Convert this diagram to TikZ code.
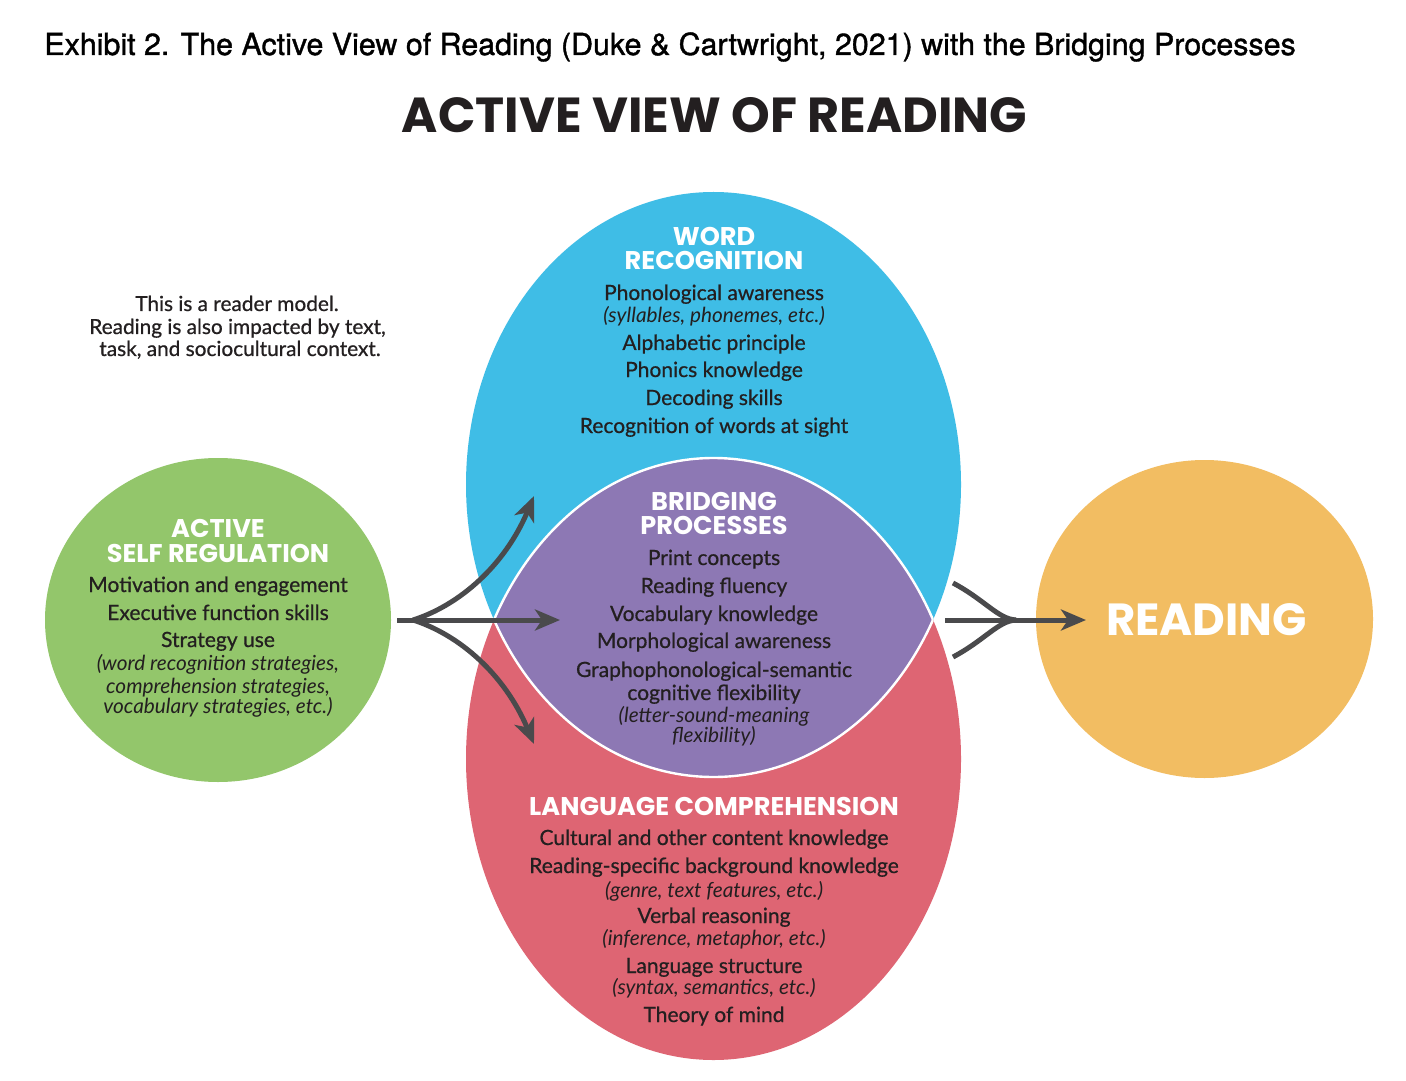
\documentclass[tikz,border=0pt]{standalone}
\usepackage{fontspec}
\usetikzlibrary{arrows.meta}
\newfontfamily\bodyf{Lato}[FakeBold=0.7]
\newfontfamily\itf{Lato}
\newfontfamily\headf{Poppins}
\newfontfamily\exf{TeX Gyre Heros}[FakeBold=1.2]
\definecolor{wrblue}{HTML}{3FBDE6}
\definecolor{lcred}{HTML}{DE6573}
\definecolor{bppurple}{HTML}{8D78B4}
\definecolor{asgreen}{HTML}{93C66B}
\definecolor{rdorange}{HTML}{F2BD62}
\definecolor{arrgray}{HTML}{4A4A4C}
\definecolor{txt}{HTML}{231F20}
\tikzset{
  body/.style={anchor=base, font=\bodyf\fontsize{10.5}{12}\selectfont, text=txt, inner sep=0pt},
  ital/.style={anchor=base, font=\itf\itshape\fontsize{10.4}{12}\selectfont, text=txt, inner sep=0pt},
  note/.style={anchor=base, font=\bodyf\fontsize{10.4}{12}\selectfont, text=txt, inner sep=0pt},
  head/.style={anchor=base, font=\headf\bfseries\fontsize{12.8}{14}\selectfont, text=white, inner sep=0pt},
  arr/.style={draw=arrgray, line width=2.5pt, -{Stealth[length=12.5pt,width=10.5pt,inset=3.5pt]}},
  plain/.style={draw=arrgray, line width=2.5pt}
}
\begin{document}
\begin{tikzpicture}[x=0.5pt,y=-0.5pt]
\path[use as bounding box, fill=white] (0,0) rectangle (1406,1080);
% header and title
\node[anchor=base west, inner sep=0pt, font=\exf\fontsize{15.2}{17}\selectfont] (exhibit) at (44,55)
  {Exhibit 2. The Active View of Reading (Duke \& Cartwright, 2021) with the Bridging Processes};
\node[anchor=base, inner sep=0pt, text=txt, font=\headf\bfseries\fontsize{24.6}{27}\selectfont] (title) at (714.5,133)
  {ACTIVE VIEW OF READING};
% shapes
\fill[asgreen] (218,620) ellipse [x radius=173, y radius=162];
\fill[rdorange] (1204.5,619) ellipse [x radius=168.5, y radius=159];
\fill[wrblue] (713.5,484.5) ellipse [x radius=247.5, y radius=292.5];
\fill[lcred] (713.5,759) ellipse [x radius=247.5, y radius=301];
\begin{scope}
  \clip (713.5,484.5) ellipse [x radius=247.5, y radius=292.5];
  \fill[bppurple] (713.5,759) ellipse [x radius=247.5, y radius=301];
  \draw[white, line width=1.2pt] (713.5,759) ellipse [x radius=247.5, y radius=301];
\end{scope}
\begin{scope}
  \clip (713.5,759) ellipse [x radius=247.5, y radius=301];
  \draw[white, line width=1.2pt] (713.5,484.5) ellipse [x radius=247.5, y radius=292.5];
\end{scope}
% note
\node[note] (n1) at (237,311) {This is a reader model.};
\node[note] (n2) at (237.5,334) {Reading is also impacted by text,};
\node[note] (n3) at (240,356) {task, and sociocultural context.};
% word recognition
\node[head] (wrh1) at (714,246) {WORD};
\node[head] (wrh2) at (714,270) {RECOGNITION};
\node[body] (wr1) at (714,300) {Phonological awareness};
\node[ital] (wr1i) at (714,322) {(syllables, phonemes, etc.)};
\node[body] (wr2) at (714,350) {Alphabetic principle};
\node[body] (wr3) at (714,377) {Phonics knowledge};
\node[body] (wr4) at (714,405) {Decoding skills};
\node[body] (wr5) at (714,433) {Recognition of words at sight};
% bridging
\node[head] (bph1) at (714,510) {BRIDGING};
\node[head] (bph2) at (714,534) {PROCESSES};
\node[body] (bp1) at (714,565) {Print concepts};
\node[body] (bp2) at (714,593) {Reading fluency};
\node[body] (bp3) at (714,621) {Vocabulary knowledge};
\node[body] (bp4) at (714,648) {Morphological awareness};
\node[body] (bp5) at (714,677) {Graphophonological-semantic};
\node[body] (bp6) at (714,700) {cognitive flexibility};
\node[ital] (bp7) at (714,722) {(letter-sound-meaning};
\node[ital] (bp8) at (714,742) {flexibility)};
% language comprehension
\node[head] (lch) at (714,815) {LANGUAGE COMPREHENSION};
\node[body] (lc1) at (714,845) {Cultural and other content knowledge};
\node[body] (lc2) at (714,873) {Reading-specific background knowledge};
\node[ital] (lc2i) at (714,897) {(genre, text features, etc.)};
\node[body] (lc3) at (714,923) {Verbal reasoning};
\node[ital] (lc3i) at (714,945) {(inference, metaphor, etc.)};
\node[body] (lc4) at (714,973) {Language structure};
\node[ital] (lc4i) at (714,994) {(syntax, semantics, etc.)};
\node[body] (lc5) at (714,1022) {Theory of mind};
% active self regulation
\node[head] (ash1) at (218,537) {ACTIVE};
\node[head] (ash2) at (218,562) {SELF REGULATION};
\node[body] (as1) at (218,592) {Motivation and engagement};
\node[body] (as2) at (218,620) {Executive function skills};
\node[body] (as3) at (218,647) {Strategy use};
\node[ital] (as4) at (218,670) {(word recognition strategies,};
\node[ital] (as5) at (218,693) {comprehension strategies,};
\node[ital] (as6) at (218,713) {vocabulary strategies, etc.)};
% reading
\node[anchor=base, inner sep=0pt, text=white, font=\headf\bfseries\fontsize{22.5}{24}\selectfont] (reading) at (1206.5,635) {READING};
% arrows
\coordinate (src) at (397,620);
\coordinate (fork) at (413,620);
\coordinate (toWR) at (534,496);
\coordinate (toBP) at (560,620);
\coordinate (toLC) at (534,744);
\draw[arr] (src) -- (toBP);
\draw[arr] (fork) .. controls (460,605) and (505,565) .. (toWR);
\draw[arr] (fork) .. controls (460,635) and (505,675) .. (toLC);
\coordinate (armU) at (953,583);
\coordinate (armD) at (953,657);
\coordinate (join) at (1016,620);
\coordinate (rstart) at (945,620);
\coordinate (toRD) at (1086,620);
\draw[plain] (armU) .. controls (985,600) and (998,619) .. (join);
\draw[plain] (armD) .. controls (985,640) and (998,621) .. (join);
\draw[arr] (rstart) -- (toRD);
\end{tikzpicture}
\end{document}
